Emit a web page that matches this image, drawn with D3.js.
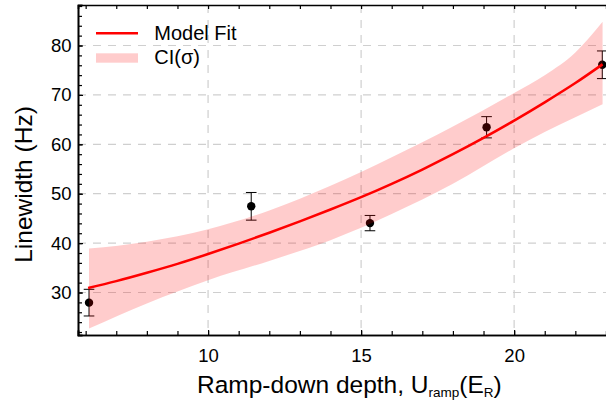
<!DOCTYPE html>
<html>
<head>
<meta charset="utf-8">
<script src="https://cdn.jsdelivr.net/npm/d3@7"></script>
<style>
  html, body { margin: 0; padding: 0; background: #fff; }
  svg { display: block; overflow: hidden; }
  text { font-family: "Liberation Sans", Arial, sans-serif; fill: #000; }
</style>
</head>
<body>
<svg id="chart" width="606" height="405"></svg>
<script>
// ---- data ----
const pointX   = [6.11, 11.41, 15.29, 19.10, 22.88];
const pointY   = [27.95, 47.45, 44.05, 63.45, 76.10];
const pointErr = [2.70, 2.80, 1.55, 2.15, 2.80];

const fitX = [6.08, 7, 8, 9, 10, 11, 12, 13, 14, 15, 16, 17, 18, 19, 20, 21, 22, 22.89];
const fitY = [30.9, 32.3, 34.0, 35.8, 37.8, 39.9, 42.1, 44.4, 46.8, 49.3, 52.0, 54.9, 58.0, 61.3, 64.8, 68.5, 72.4, 76.2];

const bandX    = [6.11, 8, 10, 12, 14, 16, 18, 20, 21, 22, 22.89];
const bandLow  = [22.7, 27.8, 32.5, 36.4, 40.6, 45.9, 52.0, 59.2, 62.5, 65.5, 68.1];
const bandHigh = [38.9, 40.3, 42.8, 46.6, 51.6, 57.4, 63.6, 70.4, 74.0, 78.6, 84.8];

const xTicks = [10, 15, 20];
const yTicks = [30, 40, 50, 60, 70, 80];
const legendLabels = ["Model Fit", "CI(σ)"];

// ---- layout ----
const svg = d3.select("#chart");
const mLeft = 78, mTop = 5, mBottom = 335, mRight = 609;
const x = d3.scaleLinear().domain([5.75, 23.1]).range([mLeft, mRight]);
const y = d3.scaleLinear().domain([21.4, 88.2]).range([mBottom, mTop]);

// grid
const grid = svg.append("g");
grid.selectAll("line.gx").data(xTicks).enter().append("line")
  .attr("x1", d => x(d)).attr("x2", d => x(d))
  .attr("y1", mTop).attr("y2", mBottom)
  .attr("stroke", "#cfcfcf").attr("stroke-width", 1.2).attr("stroke-dasharray", "8,7");
grid.selectAll("line.gy").data(yTicks).enter().append("line")
  .attr("y1", d => y(d)).attr("y2", d => y(d))
  .attr("x1", mLeft).attr("x2", mRight)
  .attr("stroke", "#cfcfcf").attr("stroke-width", 1.2).attr("stroke-dasharray", "8,7");

// error bars + points
const pts = pointX.map((d, i) => ({x: d, y: pointY[i], e: pointErr[i]}));
const eb = svg.append("g").attr("stroke", "#000").attr("stroke-width", 1);
pts.forEach(p => {
  eb.append("line").attr("x1", x(p.x)).attr("x2", x(p.x)).attr("y1", y(p.y - p.e)).attr("y2", y(p.y + p.e));
  eb.append("line").attr("x1", x(p.x) - 5.3).attr("x2", x(p.x) + 5.3).attr("y1", y(p.y - p.e)).attr("y2", y(p.y - p.e));
  eb.append("line").attr("x1", x(p.x) - 5.3).attr("x2", x(p.x) + 5.3).attr("y1", y(p.y + p.e)).attr("y2", y(p.y + p.e));
});
svg.append("g").selectAll("circle").data(pts).enter().append("circle")
  .attr("cx", d => x(d.x)).attr("cy", d => y(d.y)).attr("r", 4.2).attr("fill", "#000");

// band
const band = bandX.map((d, i) => ({x: d, lo: bandLow[i], hi: bandHigh[i]}));
svg.append("path").datum(band)
  .attr("d", d3.area().x(d => x(d.x)).y0(d => y(d.lo)).y1(d => y(d.hi)).curve(d3.curveMonotoneX))
  .attr("fill", "#ff0000").attr("fill-opacity", 0.2);

// fit curve
const fit = fitX.map((d, i) => ({x: d, y: fitY[i]}));
svg.append("path").datum(fit)
  .attr("d", d3.line().x(d => x(d.x)).y(d => y(d.y)).curve(d3.curveMonotoneX))
  .attr("fill", "none").attr("stroke", "#ff0000").attr("stroke-width", 2.5);

// axes (ticks inward)
const fmt = d3.format("d");
const xMinor = d3.range(6, 24, 1);
const yMinor = d3.range(22, 89, 2);
const axB = svg.append("g").attr("transform", `translate(0,${mBottom})`)
  .call(d3.axisBottom(x).tickValues(xMinor).tickSize(-4).tickFormat(""));
const axB2 = svg.append("g").attr("transform", `translate(0,${mBottom})`)
  .call(d3.axisBottom(x).tickValues(xTicks).tickSize(-5).tickPadding(14).tickFormat(fmt));
const axT = svg.append("g").attr("transform", `translate(0,${mTop})`)
  .call(d3.axisTop(x).tickValues(xMinor).tickSize(-4).tickFormat(""));
const axL = svg.append("g").attr("transform", `translate(${mLeft},0)`)
  .call(d3.axisLeft(y).tickValues(yMinor).tickSize(-4).tickFormat(""));
const axL2 = svg.append("g").attr("transform", `translate(${mLeft},0)`)
  .call(d3.axisLeft(y).tickValues(yTicks).tickSize(-5).tickPadding(6.5).tickFormat(fmt));
[axB, axB2, axT, axL, axL2].forEach(g => {
  g.select(".domain").attr("stroke", "#000").attr("stroke-width", 1.6);
  g.selectAll(".tick line").attr("stroke", "#000").attr("stroke-width", 1.2);
  g.selectAll("text").attr("font-size", 18.5).attr("font-family", "Liberation Sans, Arial, sans-serif").attr("fill", "#000");
});

// axis titles
svg.append("text")
  .attr("transform", "translate(31.5,184.5) rotate(-90)")
  .attr("text-anchor", "middle")
  .attr("font-size", 24.5).text("Linewidth (Hz)");
const xl = svg.append("text").attr("x", 197).attr("y", 393).attr("font-size", 24.5);
xl.append("tspan").text("Ramp-down depth, U");
xl.append("tspan").attr("font-size", 13.5).attr("dy", 4).text("ramp");
xl.append("tspan").attr("dy", -4).text("(E");
xl.append("tspan").attr("font-size", 13.5).attr("dy", 4).text("R");
xl.append("tspan").attr("dy", -4).text(")");

// legend
const lg = svg.append("g");
lg.append("line").attr("x1", 96).attr("x2", 138).attr("y1", 33.3).attr("y2", 33.3)
  .attr("stroke", "#ff0000").attr("stroke-width", 2.5);
lg.append("rect").attr("x", 96).attr("y", 53.3).attr("width", 42).attr("height", 9.4)
  .attr("fill", "#ff0000").attr("fill-opacity", 0.2);
lg.selectAll("text").data(legendLabels).enter().append("text")
  .attr("x", 154.3).attr("y", (d, i) => 40 + i * 24)
  .attr("font-size", 20).text(d => d);
</script>
</body>
</html>
